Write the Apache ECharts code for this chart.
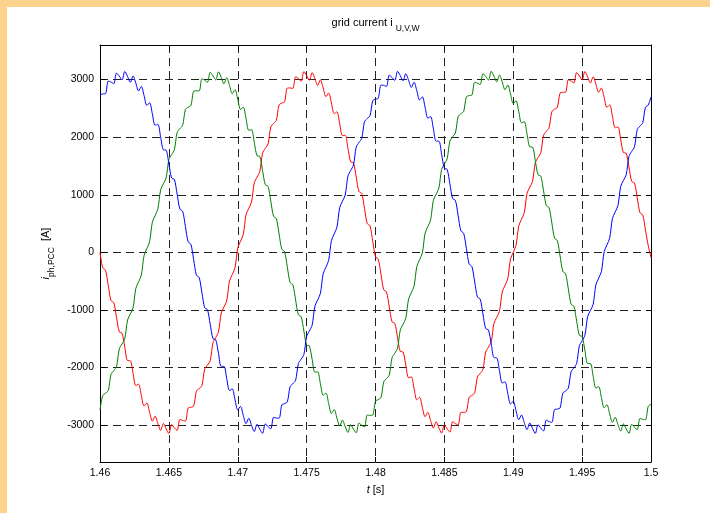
<!DOCTYPE html>
<html>
<head>
<meta charset="utf-8">
<script src="https://cdn.jsdelivr.net/npm/echarts@6/dist/echarts.min.js"></script>
<style>
html,body{margin:0;padding:0;width:710px;height:513px;overflow:hidden;background:#FBD38D;}
#c{position:absolute;left:7px;top:7px;width:703px;height:506px;background:#ffffff;}
</style>
</head>
<body>
<div id="c"></div>
<script>
// time stamps [s]
const times = [
1.4600,1.4602,1.4604,1.4606,1.4608,1.4610,1.4612,1.4614,1.4616,1.4618,
1.4620,1.4622,1.4624,1.4626,1.4628,1.4630,1.4632,1.4634,1.4636,1.4638,
1.4640,1.4642,1.4644,1.4646,1.4648,1.4650,1.4652,1.4654,1.4656,1.4658,
1.4660,1.4662,1.4664,1.4666,1.4668,1.4670,1.4672,1.4674,1.4676,1.4678,
1.4680,1.4682,1.4684,1.4686,1.4688,1.4690,1.4692,1.4694,1.4696,1.4698,
1.4700,1.4702,1.4704,1.4706,1.4708,1.4710,1.4712,1.4714,1.4716,1.4718,
1.4720,1.4722,1.4724,1.4726,1.4728,1.4730,1.4732,1.4734,1.4736,1.4738,
1.4740,1.4742,1.4744,1.4746,1.4748,1.4750,1.4752,1.4754,1.4756,1.4758,
1.4760,1.4762,1.4764,1.4766,1.4768,1.4770,1.4772,1.4774,1.4776,1.4778,
1.4780,1.4782,1.4784,1.4786,1.4788,1.4790,1.4792,1.4794,1.4796,1.4798,
1.4800,1.4802,1.4804,1.4806,1.4808,1.4810,1.4812,1.4814,1.4816,1.4818,
1.4820,1.4822,1.4824,1.4826,1.4828,1.4830,1.4832,1.4834,1.4836,1.4838,
1.4840,1.4842,1.4844,1.4846,1.4848,1.4850,1.4852,1.4854,1.4856,1.4858,
1.4860,1.4862,1.4864,1.4866,1.4868,1.4870,1.4872,1.4874,1.4876,1.4878,
1.4880,1.4882,1.4884,1.4886,1.4888,1.4890,1.4892,1.4894,1.4896,1.4898,
1.4900,1.4902,1.4904,1.4906,1.4908,1.4910,1.4912,1.4914,1.4916,1.4918,
1.4920,1.4922,1.4924,1.4926,1.4928,1.4930,1.4932,1.4934,1.4936,1.4938,
1.4940,1.4942,1.4944,1.4946,1.4948,1.4950,1.4952,1.4954,1.4956,1.4958,
1.4960,1.4962,1.4964,1.4966,1.4968,1.4970,1.4972,1.4974,1.4976,1.4978,
1.4980,1.4982,1.4984,1.4986,1.4988,1.4990,1.4992,1.4994,1.4996,1.4998,
1.5000];

// phase U (red) current [A]
const iU = [
0,-268,-310,-575,-838,-874,-1130,-1382,-1404,-1645,
-1880,-1882,-2102,-2313,-2290,-2484,-2667,-2615,-2778,-2929,
-2845,-2974,-3091,-2971,-3064,-3145,-2989,-3046,-3091,-2899,
-2920,-2929,-2703,-2690,-2667,-2409,-2365,-2313,-2027,-1957,
-1880,-1570,-1479,-1382,-1055,-949,-838,-500,-385,-268,
75,193,310,650,763,874,1205,1307,1404,1720,
1805,1882,2177,2238,2290,2559,2592,2615,2853,2854,
2845,3049,3016,2971,3139,3070,2989,3121,3016,2899,
2995,2854,2703,2765,2592,2409,2440,2238,2027,2032,
1805,1570,1554,1307,1055,1024,763,500,460,193,
-75,-118,-385,-650,-688,-949,-1205,-1232,-1479,-1720,
-1730,-1957,-2177,-2163,-2365,-2559,-2517,-2690,-2853,-2779,
-2920,-3049,-2941,-3046,-3139,-2995,-3064,-3121,-2941,-2974,
-2995,-2779,-2778,-2765,-2517,-2484,-2440,-2163,-2102,-2032,
-1730,-1645,-1554,-1232,-1130,-1024,-688,-575,-460,-118,
0,118,460,575,688,1024,1130,1232,1554,1645,
1730,2032,2102,2163,2440,2484,2517,2765,2778,2779,
2995,2974,2941,3121,3064,2995,3139,3046,2941,3049,
2920,2779,2853,2690,2517,2559,2365,2163,2177,1957,
1730,1720,1479,1232,1205,949,688,650,385,118,
-90];

// phase V (blue) current [A]
const iV = [
2734,2750,2755,2974,2957,2928,3112,3059,2994,3142,
3053,2952,3064,2939,2802,2880,2721,2551,2596,2406,
2206,2223,2006,1781,1774,1535,1290,1265,1010,751,
713,448,182,139,-129,-396,-437,-701,-962,-995,
-1249,-1497,-1515,-1752,-1982,-1979,-2193,-2399,-2370,-2557,
-2734,-2675,-2830,-2974,-2882,-3003,-3112,-2984,-3069,-3142,
-2978,-3027,-3064,-2864,-2877,-2880,-2646,-2626,-2596,-2331,
-2281,-2223,-1931,-1856,-1774,-1460,-1365,-1265,-935,-826,
-713,-373,-257,-139,204,321,437,776,887,995,
1324,1422,1515,1827,1907,1979,2268,2324,2370,2632,
2659,2675,2905,2899,2882,3078,3037,2984,3144,3067,
2978,3102,2989,2864,2952,2805,2646,2701,2521,2331,
2356,2148,1931,1931,1699,1460,1440,1190,935,901,
638,373,332,64,-204,-246,-512,-776,-812,-1070,
-1324,-1347,-1590,-1827,-1832,-2054,-2268,-2249,-2445,-2632,
-2584,-2750,-2905,-2824,-2957,-3078,-2962,-3059,-3144,-2992,
-3053,-3102,-2914,-2939,-2952,-2730,-2721,-2701,-2446,-2406,
-2356,-2073,-2006,-1931,-1624,-1535,-1440,-1115,-1010,-901,
-563,-448,-332,11,129,246,587,701,812,1145,
1249,1347,1665,1752,1832,2129,2193,2249,2520,2557,
2700];

// phase W (green) current [A]
const iW = [
-2734,-2482,-2445,-2399,-2118,-2054,-1982,-1677,-1590,-1497,
-1174,-1070,-962,-626,-512,-396,-54,64,182,523,
638,751,1085,1190,1290,1610,1699,1781,2081,2148,
2206,2481,2521,2551,2796,2805,2802,3014,2989,2952,
3128,3067,2994,3134,3037,2928,3032,2899,2755,2825,
2659,2482,2520,2324,2118,2129,1907,1677,1665,1422,
1174,1145,887,626,587,321,54,11,-257,-523,
-563,-826,-1085,-1115,-1365,-1610,-1624,-1856,-2081,-2073,
-2281,-2481,-2446,-2626,-2796,-2730,-2877,-3014,-2914,-3027,
-3128,-2992,-3069,-3134,-2962,-3003,-3032,-2824,-2830,-2825,
-2584,-2557,-2520,-2249,-2193,-2129,-1832,-1752,-1665,-1347,
-1249,-1145,-812,-701,-587,-246,-129,-11,332,448,
563,901,1010,1115,1440,1535,1624,1931,2006,2073,
2356,2406,2446,2701,2721,2730,2952,2939,2914,3102,
3053,2992,3144,3059,2962,3078,2957,2824,2905,2750,
2584,2632,2445,2249,2268,2054,1832,1827,1590,1347,
1324,1070,812,776,512,246,204,-64,-332,-373,
-638,-901,-935,-1190,-1440,-1460,-1699,-1931,-1931,-2148,
-2356,-2331,-2521,-2701,-2646,-2805,-2952,-2864,-2989,-3102,
-2978,-3067,-3144,-2984,-3037,-3078,-2882,-2899,-2905,-2675,
-2640];

const xTicks = [1.46,1.465,1.47,1.475,1.48,1.485,1.49,1.495,1.5];
const yTicks = [-3000,-2000,-1000,0,1000,2000,3000];

const FONT = '"Liberation Sans", Arial, Helvetica, sans-serif';
const pair = arr => times.map((t, i) => [t, arr[i]]);

const chart = echarts.init(document.getElementById('c'), null, {renderer: 'canvas'});

const gridLine = {show: true, lineStyle: {color: '#222', type: [8, 5], width: 1}};
const axisLineStyle = {show: true, onZero: false, lineStyle: {color: '#000', width: 1}};

chart.setOption({
  animation: false,
  backgroundColor: '#ffffff',
  graphic: [{
    type: 'text',
    x: 368.5,
    y: 10,
    style: {
      text: '{a|grid current i }{s|U,V,W}',
      align: 'center',
      verticalAlign: 'top',
      fill: '#000',
      rich: {
        a: {fontFamily: FONT, fontSize: 11, lineHeight: 12, verticalAlign: 'top', color: '#000'},
        s: {fontFamily: FONT, fontSize: 8.5, lineHeight: 10, padding: [7, 0, 0, 0], verticalAlign: 'top', color: '#000'}
      }
    }
  }],
  grid: {left: 93, top: 38, width: 551, height: 417, containLabel: false},
  xAxis: [{
    type: 'value', min: 1.46, max: 1.5, position: 'bottom',
    axisLine: axisLineStyle,
    axisTick: {show: true, inside: true, length: 5, customValues: xTicks, lineStyle: {color: '#000'}},
    axisLabel: {customValues: xTicks, formatter: v => String(v), color: '#000', fontFamily: FONT, fontSize: 10.5, margin: 6},
    splitLine: gridLine,
    name: '{i|t} [s]', nameLocation: 'middle', nameGap: 19,
    nameTextStyle: {color: '#000', fontFamily: FONT, fontSize: 11, lineHeight: 13,
      rich: {i: {fontFamily: FONT, fontSize: 11, fontStyle: 'italic', color: '#000', lineHeight: 13}}}
  }, {
    type: 'value', min: 1.46, max: 1.5, position: 'top',
    axisLine: axisLineStyle,
    axisTick: {show: true, inside: true, length: 5, customValues: xTicks, lineStyle: {color: '#000'}},
    axisLabel: {show: false},
    splitLine: {show: false}
  }],
  yAxis: [{
    type: 'value', min: -3640, max: 3600, position: 'left',
    axisLine: axisLineStyle,
    axisTick: {show: true, inside: true, length: 5, customValues: yTicks, lineStyle: {color: '#000'}},
    axisLabel: {customValues: yTicks, formatter: v => String(v), color: '#000', fontFamily: FONT, fontSize: 10.5, margin: 6},
    splitLine: gridLine,
    name: '{i|i}{s|ph,PCC}{a|  [A]}', nameLocation: 'middle', nameRotate: 90, nameGap: 38,
    nameTextStyle: {color: '#000', fontFamily: FONT, fontSize: 11,
      rich: {
        i: {fontFamily: FONT, fontSize: 11, fontStyle: 'italic', lineHeight: 12, verticalAlign: 'top', color: '#000'},
        s: {fontFamily: FONT, fontSize: 8.5, lineHeight: 10, padding: [7, 0, 0, 0], verticalAlign: 'top', color: '#000'},
        a: {fontFamily: FONT, fontSize: 11, lineHeight: 12, verticalAlign: 'top', color: '#000'}
      }}
  }, {
    type: 'value', min: -3640, max: 3600, position: 'right',
    axisLine: axisLineStyle,
    axisTick: {show: true, inside: true, length: 5, customValues: yTicks, lineStyle: {color: '#000'}},
    axisLabel: {show: false},
    splitLine: {show: false}
  }],
  series: [
    {type: 'line', name: 'iU', data: pair(iU), xAxisIndex: 0, yAxisIndex: 0, symbol: 'none', smooth: 0.3,
     lineStyle: {color: '#ff0000', width: 1}, itemStyle: {color: '#ff0000'}},
    {type: 'line', name: 'iW', data: pair(iW), xAxisIndex: 0, yAxisIndex: 0, symbol: 'none', smooth: 0.3,
     lineStyle: {color: '#008000', width: 1}, itemStyle: {color: '#008000'}},
    {type: 'line', name: 'iV', data: pair(iV), xAxisIndex: 0, yAxisIndex: 0, symbol: 'none', smooth: 0.3,
     lineStyle: {color: '#0000ff', width: 1}, itemStyle: {color: '#0000ff'}}
  ]
});
</script>
</body>
</html>
